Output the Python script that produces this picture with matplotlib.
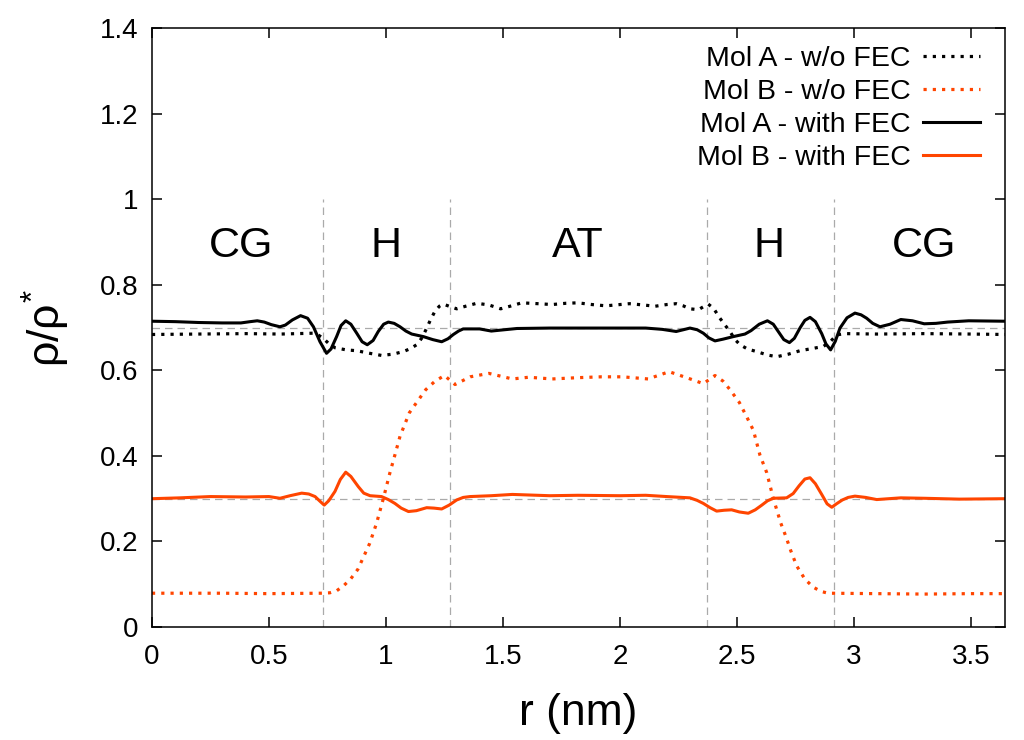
import matplotlib
matplotlib.use('Agg')
import matplotlib.pyplot as plt

plt.rcParams['font.family'] = ['Liberation Sans', 'DejaVu Sans']
plt.rcParams['mathtext.fontset'] = 'custom'
plt.rcParams['mathtext.rm'] = 'Liberation Sans'
plt.rcParams['mathtext.it'] = 'Liberation Sans'

# density profiles
r_a_wo = [0.00, 0.20, 0.40, 0.55, 0.69, 0.71, 0.732, 0.755, 0.782, 0.83, 0.875, 0.93,
          0.981, 1.03, 1.074, 1.105, 1.131, 1.155, 1.174, 1.19, 1.209, 1.228, 1.245,
          1.27, 1.302, 1.34, 1.388, 1.44, 1.49, 1.53, 1.58, 1.65, 1.71, 1.77, 1.82,
          1.88, 1.94, 2.04, 2.10, 2.15, 2.20, 2.24, 2.27, 2.299, 2.335, 2.36, 2.377,
          2.40, 2.427, 2.45, 2.47, 2.49, 2.513, 2.545, 2.584, 2.63, 2.67, 2.72, 2.769,
          2.82, 2.869, 2.90, 2.926, 2.96, 3.10, 3.30, 3.50, 3.645]
a_wo = [0.684, 0.685, 0.686, 0.685, 0.687, 0.683, 0.675, 0.663, 0.653, 0.648, 0.646, 0.640,
        0.635, 0.638, 0.644, 0.651, 0.660, 0.677, 0.699, 0.718, 0.738, 0.750, 0.755,
        0.750, 0.744, 0.750, 0.757, 0.753, 0.744, 0.750, 0.758, 0.756, 0.754, 0.757, 0.758,
        0.754, 0.751, 0.756, 0.753, 0.750, 0.754, 0.756, 0.751, 0.744, 0.742, 0.750, 0.755,
        0.745, 0.722, 0.705, 0.691, 0.673, 0.660, 0.650, 0.644, 0.636, 0.632, 0.638, 0.646,
        0.651, 0.656, 0.668, 0.683, 0.686, 0.685, 0.686, 0.685, 0.684]

r_b_wo = [0.00, 0.30, 0.50, 0.72, 0.76, 0.79, 0.82, 0.85, 0.88, 0.90, 0.93, 0.96, 0.989,
          1.017, 1.038, 1.06, 1.10, 1.14, 1.17, 1.21, 1.25, 1.295, 1.36, 1.44, 1.54, 1.61,
          1.71, 1.82, 1.92, 2.01, 2.12, 2.21, 2.29, 2.356, 2.406, 2.44, 2.47, 2.51, 2.54,
          2.57, 2.598, 2.627, 2.655, 2.687, 2.71, 2.73, 2.755, 2.79, 2.826, 2.86, 2.89,
          3.10, 3.30, 3.50, 3.645]
b_wo = [0.079, 0.079, 0.078, 0.079, 0.080, 0.085, 0.097, 0.113, 0.135, 0.159, 0.195, 0.243,
        0.301, 0.361, 0.402, 0.446, 0.501, 0.532, 0.555, 0.575, 0.588, 0.567, 0.585, 0.593,
        0.580, 0.584, 0.580, 0.583, 0.585, 0.585, 0.580, 0.597, 0.582, 0.569, 0.588, 0.575,
        0.555, 0.525, 0.493, 0.460, 0.402, 0.361, 0.301, 0.243, 0.210, 0.178, 0.143, 0.112,
        0.093, 0.083, 0.079, 0.078, 0.077, 0.078, 0.078]

r_a_fec = [0.00, 0.10, 0.20, 0.30, 0.38, 0.42, 0.45, 0.48, 0.51, 0.547, 0.57, 0.60, 0.635,
           0.665, 0.69, 0.718, 0.746, 0.765, 0.789, 0.808, 0.828, 0.850, 0.875, 0.898,
           0.920, 0.945, 0.967, 0.990, 1.010, 1.035, 1.06, 1.085, 1.110, 1.16, 1.20, 1.238,
           1.265, 1.288, 1.31, 1.33, 1.40, 1.45, 1.56, 1.70, 1.82, 2.00, 2.11, 2.18, 2.24,
           2.27, 2.299, 2.33, 2.356, 2.38, 2.406, 2.44, 2.484, 2.534, 2.56, 2.595, 2.63,
           2.655, 2.68, 2.70, 2.724, 2.745, 2.77, 2.79, 2.812, 2.835, 2.862, 2.88, 2.900,
           2.92, 2.94, 2.97, 3.004, 3.03, 3.054, 3.08, 3.111, 3.154, 3.20, 3.25, 3.30, 3.35,
           3.40, 3.49, 3.645]
a_fec = [0.715, 0.714, 0.712, 0.711, 0.711, 0.714, 0.716, 0.713, 0.707, 0.702, 0.706, 0.718,
         0.728, 0.722, 0.702, 0.667, 0.640, 0.650, 0.679, 0.705, 0.716, 0.708, 0.687, 0.667,
         0.660, 0.670, 0.691, 0.708, 0.713, 0.710, 0.702, 0.692, 0.685, 0.679, 0.672, 0.667,
         0.674, 0.684, 0.692, 0.697, 0.697, 0.692, 0.698, 0.699, 0.699, 0.699, 0.699, 0.696,
         0.691, 0.695, 0.699, 0.695, 0.687, 0.676, 0.669, 0.673, 0.679, 0.685, 0.693, 0.708,
         0.716, 0.708, 0.688, 0.672, 0.665, 0.675, 0.700, 0.717, 0.724, 0.714, 0.686, 0.662,
         0.648, 0.668, 0.699, 0.723, 0.734, 0.730, 0.722, 0.710, 0.702, 0.708, 0.719, 0.716,
         0.709, 0.710, 0.713, 0.716, 0.715]

r_b_fec = [0.00, 0.12, 0.25, 0.40, 0.50, 0.547, 0.59, 0.640, 0.67, 0.697, 0.718, 0.736,
           0.755, 0.782, 0.805, 0.828, 0.850, 0.882, 0.905, 0.932, 0.981, 1.01, 1.038,
           1.065, 1.096, 1.13, 1.174, 1.205, 1.238, 1.27, 1.302, 1.33, 1.359, 1.45, 1.54,
           1.70, 1.82, 2.00, 2.11, 2.20, 2.299, 2.33, 2.356, 2.385, 2.413, 2.445, 2.477,
           2.51, 2.548, 2.578, 2.606, 2.63, 2.655, 2.712, 2.74, 2.765, 2.79, 2.812, 2.835,
           2.862, 2.885, 2.905, 2.925, 2.95, 2.975, 3.004, 3.05, 3.097, 3.20, 3.30, 3.45,
           3.645]
b_fec = [0.300, 0.302, 0.305, 0.304, 0.305, 0.301, 0.307, 0.313, 0.311, 0.305, 0.294, 0.285,
         0.295, 0.317, 0.345, 0.362, 0.352, 0.328, 0.313, 0.307, 0.305, 0.298, 0.289,
         0.278, 0.270, 0.272, 0.279, 0.278, 0.276, 0.285, 0.297, 0.303, 0.305, 0.307, 0.310,
         0.307, 0.308, 0.307, 0.308, 0.305, 0.302, 0.296, 0.289, 0.279, 0.271, 0.273, 0.274,
         0.269, 0.266, 0.274, 0.285, 0.295, 0.301, 0.302, 0.312, 0.330, 0.346, 0.349, 0.335,
         0.310, 0.288, 0.280, 0.288, 0.297, 0.303, 0.306, 0.303, 0.298, 0.302, 0.301, 0.299,
         0.300]

boundaries = [0.73, 1.275, 2.37, 2.915]
ref_levels = [0.7, 0.3]
regions = ['CG', 'H', 'AT', 'H', 'CG']
region_pos = [0.38, 1.0, 1.82, 2.635, 3.30]

orange = '#ff4500'
fig = plt.figure(figsize=(10.24, 7.4), dpi=100)
ax = fig.add_axes([0.1484, 0.1527, 0.8330, 0.8091])

for b in boundaries:
    ax.plot([b, b], [0, 1.0], color='#aaaaaa', lw=0.9, dashes=(6, 4))
for lev in ref_levels:
    ax.axhline(lev, color='#aaaaaa', lw=0.9, dashes=(6, 4))

dot = dict(lw=2.3, linestyle=(0, (1, 1.9)), dash_capstyle='butt')
ax.plot(r_a_wo, a_wo, color='black', label='Mol A - w/o FEC', **dot)
ax.plot(r_b_wo, b_wo, color=orange, label='Mol B - w/o FEC', **dot)
ax.plot(r_a_fec, a_fec, color='black', lw=2.2, label='Mol A - with FEC',
        solid_joinstyle='round')
ax.plot(r_b_fec, b_fec, color=orange, lw=2.2, label='Mol B - with FEC',
        solid_joinstyle='round')

for name, x in zip(regions, region_pos):
    ax.text(x, 0.866, name, ha='center', va='baseline', fontsize=31)

ax.set_xlim(0, 3.645)
ax.set_ylim(0, 1.4)
ax.set_xticks([0, 0.5, 1, 1.5, 2, 2.5, 3, 3.5])
ax.set_xticklabels(['0', '0.5', '1', '1.5', '2', '2.5', '3', '3.5'])
ax.set_yticks([0, 0.2, 0.4, 0.6, 0.8, 1.0, 1.2, 1.4])
ax.set_yticklabels(['0', '0.2', '0.4', '0.6', '0.8', '1', '1.2', '1.4'])
ax.tick_params(direction='in', length=7, width=1.1, labelsize=20, top=True, right=True)
ax.tick_params(axis='x', pad=12)
ax.tick_params(axis='y', pad=10)
for s in ax.spines.values():
    s.set_linewidth(1.1)

ax.set_xlabel('r (nm)', fontsize=32, labelpad=17)
ax.set_ylabel(r'$\rho/\rho^{*}$', fontsize=32, labelpad=20)

ax.legend(loc='upper right', bbox_to_anchor=(0.9945, 1.003), frameon=False, markerfirst=False,
          fontsize=20.5, handlelength=2.0, labelspacing=0.24, handletextpad=0.45,
          borderaxespad=0.3)

fig.savefig('out.png', dpi=100)
